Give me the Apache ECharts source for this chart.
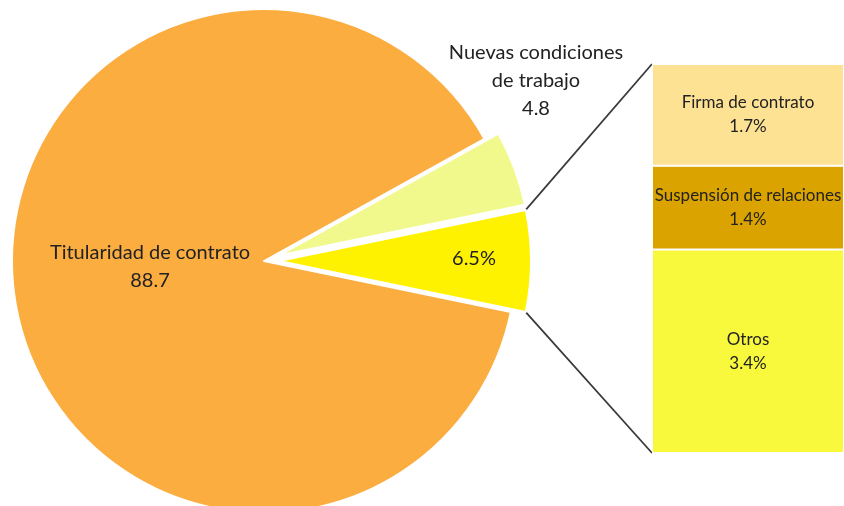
<!DOCTYPE html>
<html>
<head>
<meta charset="utf-8">
<script src="https://cdn.jsdelivr.net/npm/echarts@6/dist/echarts.min.js"></script>
<style>
  html, body { margin: 0; padding: 0; background: #fff; }
  #chart { width: 844px; height: 506px; }
</style>
</head>
<body>
<div id="chart"></div>
<script>
// pie: the "otros" slice first so it can sit centred on the right side
const pieNames = ['Otros motivos', 'Titularidad de contrato', 'Nuevas condiciones\nde trabajo'];
const pieValues = [6.5, 88.7, 4.8];
const pieColors = ['#fff200', '#fbad40', '#f2f98c'];

// breakdown of the 6.5% (bottom to top)
const barNames = ['Otros', 'Suspensión de relaciones', 'Firma de contrato'];
const barValues = [3.4, 1.4, 1.7];
const barColors = ['#f8f83c', '#daa300', '#fde294'];

const font = 'Lato, "Liberation Sans", sans-serif';
const cx = 264, cy = 261, R = 252, offset = 15;
const barLeft = 652, barTop = 64, barBottom = 453;

const total = pieValues.reduce((a, b) => a + b, 0);
const half = pieValues[0] / total * 180;

// label spots, by data index
const labelPos = [
  [474, 259],
  [150, 267],
  [536, 81]
];

let chart = echarts.init(document.getElementById('chart'));

// connector lines from the exploded slice to the bar
const rad = half * Math.PI / 180;
const px = cx + offset + R * Math.cos(rad);
const lines = [
  [px, cy - R * Math.sin(rad), barLeft, barTop],
  [px, cy + R * Math.sin(rad), barLeft, barBottom]
].map(p => ({
  type: 'line',
  shape: {x1: p[0], y1: p[1], x2: p[2], y2: p[3]},
  style: {stroke: '#3a3a3a', lineWidth: 1.8}
}));

const pieBase = {
  type: 'pie',
  center: [cx, cy],
  radius: R,
  startAngle: half,
  clockwise: true,
  avoidLabelOverlap: false,
  labelLine: {show: false}
};

let option = {
  animation: false,
  grid: {left: barLeft, top: barTop, width: 204, height: barBottom - barTop},
  xAxis: {type: 'category', data: [''], show: false},
  yAxis: {type: 'value', min: 0, max: 6.5, show: false},
  graphic: lines,
  series: [
    Object.assign({}, pieBase, {
      selectedMode: 'multiple',
      selectedOffset: offset,
      data: pieValues.map((v, i) => ({
        name: pieNames[i],
        value: v,
        selected: i !== 1,
        itemStyle: {color: pieColors[i], borderColor: '#fff', borderWidth: 2}
      })),
      label: {show: false}
    }),
    // labels only, on an invisible copy of the pie
    Object.assign({}, pieBase, {
      silent: true,
      z: 5,
      data: pieValues.map((v, i) => ({
        name: pieNames[i],
        value: v,
        itemStyle: {color: 'rgba(0,0,0,0)'}
      })),
      label: {
        show: true,
        position: 'inside',
        fontFamily: font,
        fontSize: 20,
        lineHeight: 28,
        color: '#222',
        align: 'center',
        formatter: p => p.dataIndex === 0 ? p.value + '%' : p.name + '\n' + p.value
      },
      labelLayout: p => ({
        x: labelPos[p.dataIndex][0],
        y: labelPos[p.dataIndex][1],
        align: 'center',
        verticalAlign: 'middle'
      })
    }),
    ...barValues.map((v, i) => ({
      type: 'bar',
      stack: 'otros',
      name: barNames[i],
      barWidth: '100%',
      data: [v],
      itemStyle: {color: barColors[i], borderColor: '#fff', borderWidth: 1},
      label: {
        show: true,
        position: 'inside',
        fontFamily: font,
        fontSize: 17,
        lineHeight: 24,
        color: '#222',
        formatter: p => p.seriesName + '\n' + p.value + '%'
      }
    }))
  ]
};
option && chart.setOption(option);
</script>
</body>
</html>
